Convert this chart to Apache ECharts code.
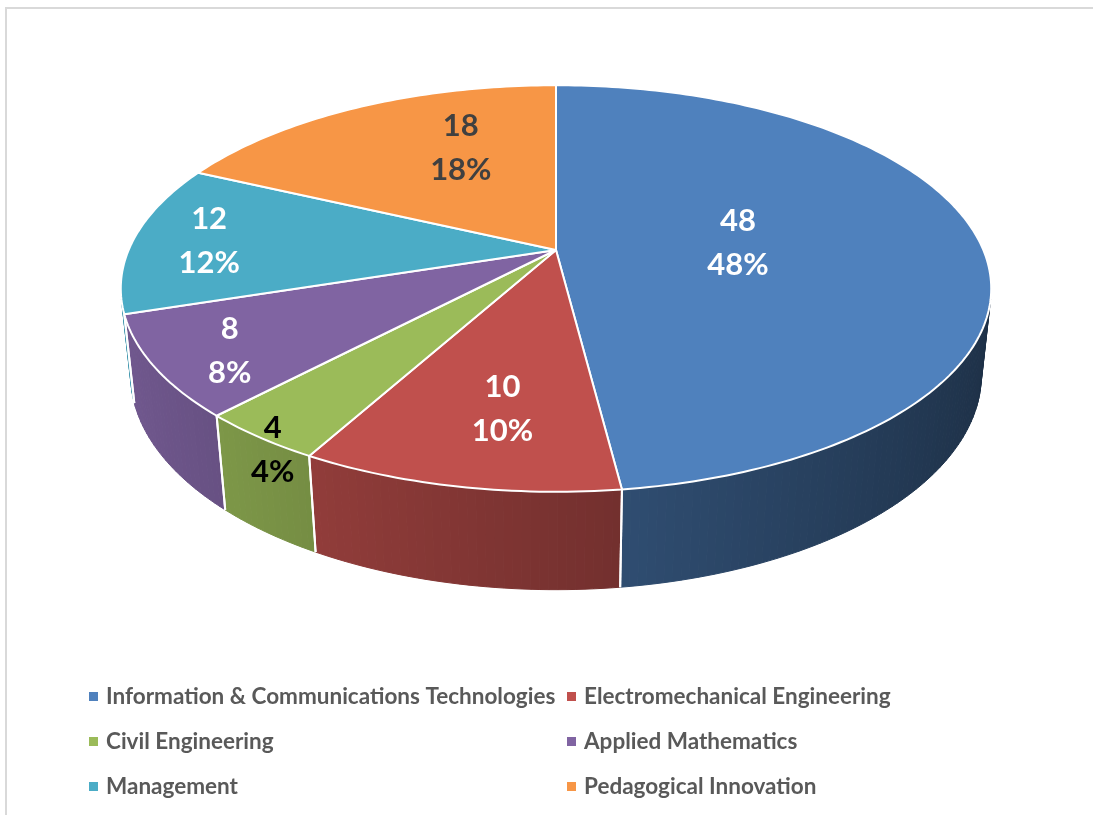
<!DOCTYPE html>
<html>
<head>
<meta charset="utf-8">
<title>Departments</title>
<script src="https://cdn.jsdelivr.net/npm/echarts@6/dist/echarts.min.js"></script>
<style>
  html, body { margin: 0; padding: 0; background: #fff; }
  #chart { width: 1093px; height: 815px; }
</style>
</head>
<body>
<div id="chart"></div>
<script>
const categories = [
  "Information & Communications Technologies",
  "Electromechanical Engineering",
  "Civil Engineering",
  "Applied Mathematics",
  "Management",
  "Pedagogical Innovation",
];
const values = [48, 10, 4, 8, 12, 18];

const colors = ["#4F81BD", "#C0504D", "#9BBB59", "#8064A2", "#4BACC6", "#F79646"];
const labelColors = ["#ffffff", "#ffffff", "#000000", "#ffffff", "#ffffff", "#404040"];
// where each label sits on the top face: [share of radius, angle shift in degrees]
const labelSpots = [[0.43, -1.2], [0.71, -2], [1.02, -3], [0.84, -1.7], [0.82, -0.4], [0.63, 9.3]];

// camera looking down on the disc (perspective, like the Excel 3D pie)
const cam = { cx: 556, cy: 250, f: 2006, dist: 4.694, tilt: (27.3 * Math.PI) / 180, thick: 0.229 };
const cosT = Math.cos(cam.tilt);
const sinT = Math.sin(cam.tilt);

const total = values.reduce((a, b) => a + b, 0);
const starts = [];
let acc = 0;
values.forEach((v) => {
  starts.push((acc / total) * 2 * Math.PI);
  acc += v;
});

// theta: clockwise from the far side, r: share of radius, y: height (0 = top face)
function project(theta, r, y) {
  const X = r * Math.sin(theta);
  const Z = -r * Math.cos(theta);
  const d = cam.dist - Z * cosT - y * sinT;
  const up = y * cosT - Z * sinT;
  return [cam.cx + (cam.f * X) / d, cam.cy - (cam.f * up) / d];
}

function shade(hex, k) {
  const n = parseInt(hex.slice(1), 16);
  const r = Math.round(((n >> 16) & 255) * k);
  const g = Math.round(((n >> 8) & 255) * k);
  const b = Math.round((n & 255) * k);
  return `rgb(${r},${g},${b})`;
}

// the rim only faces the camera between these angles
const frontEdge = Math.acos(-1 / (cam.dist * cosT));
const backEdge = 2 * Math.PI - frontEdge;

function renderWall(params) {
  const i = params.dataIndex;
  const a0 = starts[i];
  const a1 = a0 + (values[i] / total) * 2 * Math.PI;
  const lo = Math.max(a0, frontEdge);
  const hi = Math.min(a1, backEdge);
  if (hi <= lo) return null;

  const children = [];
  const n = Math.max(1, Math.ceil((hi - lo) / (Math.PI / 180)));
  for (let k = 0; k < n; k++) {
    const t0 = lo + ((hi - lo) * k) / n;
    const t1 = lo + ((hi - lo) * (k + 1)) / n;
    const light = 0.63 - 0.26 * Math.sin((t0 + t1) / 2);
    const c = shade(colors[i], light);
    children.push({
      type: "polygon",
      shape: {
        points: [project(t0, 1, 0), project(t1, 1, 0), project(t1, 1, -cam.thick), project(t0, 1, -cam.thick)],
      },
      style: { fill: c, stroke: c, lineWidth: 1 },
    });
  }
  // white seams where slices meet
  [a0, a1].forEach((a) => {
    if (a > frontEdge && a < backEdge) {
      const p = project(a, 1, 0);
      const q = project(a, 1, -cam.thick);
      children.push({
        type: "line",
        z2: 10,
        shape: { x1: p[0], y1: p[1], x2: q[0], y2: q[1] },
        style: { stroke: "#ffffff", lineWidth: 2 },
      });
    }
  });
  return { type: "group", children };
}

function renderTop(params) {
  const i = params.dataIndex;
  const a0 = starts[i];
  const a1 = a0 + (values[i] / total) * 2 * Math.PI;
  const pts = [project(0, 0, 0)];
  const n = Math.max(2, Math.ceil((a1 - a0) / (Math.PI / 180)));
  for (let k = 0; k <= n; k++) pts.push(project(a0 + ((a1 - a0) * k) / n, 1, 0));

  const spot = labelSpots[i];
  const lp = project((a0 + a1) / 2 + (spot[1] * Math.PI) / 180, spot[0], 0);
  const pct = Math.round((values[i] / total) * 100);

  return {
    type: "group",
    children: [
      {
        type: "polygon",
        shape: { points: pts },
        style: { fill: colors[i], stroke: "#ffffff", lineWidth: 2, lineJoin: "round" },
      },
      {
        type: "text",
        x: lp[0],
        y: lp[1],
        z2: 100,
        style: {
          text: values[i] + "\n" + pct + "%",
          fill: labelColors[i],
          fontFamily: "Lato",
          fontWeight: "bold",
          fontSize: 31,
          lineHeight: 44,
          align: "center",
          verticalAlign: "middle",
        },
      },
    ],
  };
}

const chart = echarts.init(document.getElementById("chart"));

const legendText = {
  fontFamily: "Lato",
  fontWeight: "bold",
  fontSize: 22.5,
  color: "#595959",
  padding: [0, 0, 0, 3],
};

chart.setOption({
  animation: false,
  backgroundColor: "#ffffff",
  color: colors,
  graphic: [
    {
      type: "polyline",
      shape: { points: [[6, 815], [6, 8], [1093, 8]] },
      style: { stroke: "#d9d9d9", lineWidth: 2, fill: null },
      silent: true,
    },
  ],
  legend: [
    {
      data: [categories[0], categories[2], categories[4]],
      orient: "vertical",
      left: 84,
      top: 680,
      itemGap: 22,
      itemWidth: 9,
      itemHeight: 9,
      icon: "rect",
      selectedMode: false,
      textStyle: legendText,
    },
    {
      data: [categories[1], categories[3], categories[5]],
      orient: "vertical",
      left: 562,
      top: 680,
      itemGap: 22,
      itemWidth: 9,
      itemHeight: 9,
      icon: "rect",
      selectedMode: false,
      textStyle: legendText,
    },
  ],
  series: [
    {
      // only feeds the legend
      type: "pie",
      name: "legend",
      radius: [0, 0],
      center: [-200, -200],
      silent: true,
      label: { show: false },
      labelLine: { show: false },
      data: categories.map((c, i) => ({ name: c, value: values[i] })),
    },
    {
      type: "custom",
      name: "walls",
      coordinateSystem: "none",
      z: 2,
      silent: true,
      renderItem: renderWall,
      data: values,
    },
    {
      type: "custom",
      name: "tops",
      coordinateSystem: "none",
      z: 3,
      silent: true,
      renderItem: renderTop,
      data: values,
    },
  ],
});
</script>
</body>
</html>
